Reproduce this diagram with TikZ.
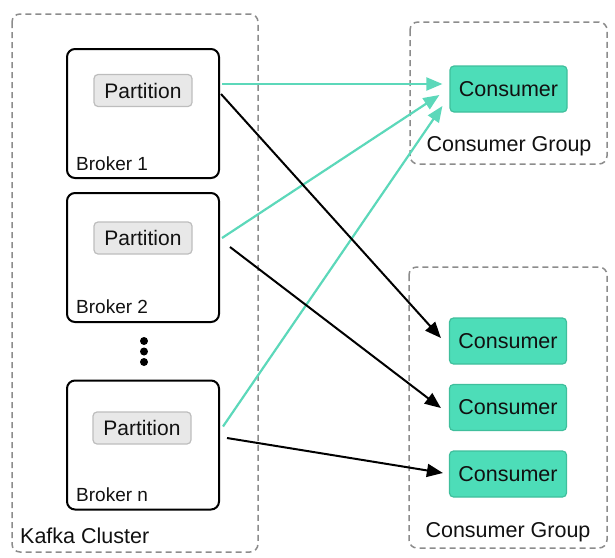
\documentclass[tikz,border=0pt]{standalone}
\usepackage{fontspec}
\setmainfont{Liberation Sans}
\usetikzlibrary{arrows.meta,calc}
\definecolor{teal1}{HTML}{4DDDB8}
\definecolor{teal2}{HTML}{3FBF9C}
\definecolor{tealarrow}{HTML}{5CD8BA}
\definecolor{grayline}{HTML}{8C8C8C}
\definecolor{partfill}{HTML}{E8E8E8}
\definecolor{partline}{HTML}{BDBDBD}
\definecolor{ink}{HTML}{111111}
\tikzset{
  groupbox/.style={draw=grayline, line width=1.5pt, dash pattern=on 6pt off 4pt, rounded corners=8pt},
  brokerbox/.style={draw=black, line width=2pt, rounded corners=8pt, minimum width=152pt, minimum height=129pt, inner sep=0pt},
  partbox/.style={draw=partline, fill=partfill, line width=1.2pt, rounded corners=4pt, minimum width=98pt, minimum height=32pt, inner sep=0pt, font=\fontsize{21}{24}\selectfont, text=ink},
  consbox/.style={draw=teal2, fill=teal1, line width=1.2pt, rounded corners=4pt, minimum width=117pt, minimum height=46pt, inner sep=0pt, font=\fontsize{21.5}{24}\selectfont, text=ink},
  smalllab/.style={anchor=west, inner sep=0pt, font=\fontsize{19}{22}\selectfont, text=ink},
  biglab/.style={inner sep=0pt, font=\fontsize{21.5}{24}\selectfont, text=ink},
  tealarr/.style={draw=tealarrow, line width=2.2pt, -{Triangle[length=16pt,width=13pt]}},
  blackarr/.style={draw=black, line width=2pt, -{Triangle[length=16pt,width=13pt]}},
  dotstyle/.style={circle, fill=black, inner sep=0pt, minimum size=8pt}
}
\begin{document}
\begin{tikzpicture}[x=1pt,y=-1pt]
\useasboundingbox (0,0) rectangle (615,557);
% groups
\draw[groupbox] (12,14) rectangle (258,552);
\draw[groupbox] (410,22) rectangle (607,164);
\draw[groupbox] (409,267) rectangle (607,548);
\node[biglab, anchor=west] (kc) at (20,536) {Kafka Cluster};
\node[biglab] (cg1) at (509,146) {Consumer Group};
\node[biglab] (cg2) at (508,532) {Consumer Group};
% brokers
\node[brokerbox] (b1) at (143,113.5) {};
\node[brokerbox] (b2) at (143,257.5) {};
\node[brokerbox] (bn) at (143,445) {};
\node[smalllab] (b1l) at (76,164) {Broker 1};
\node[smalllab] (b2l) at (76,307) {Broker 2};
\node[smalllab] (bnl) at (76,495) {Broker n};
\node[partbox] (p1) at (143,90.5) {Partition};
\node[partbox] (p2) at (143,238) {Partition};
\node[partbox] (pn) at (142,428) {Partition};
\node[dotstyle] (d1) at (144,341) {};
\node[dotstyle] (d2) at (144,351.5) {};
\node[dotstyle] (d3) at (144,362) {};
% consumers
\node[consbox] (c0) at (508.5,89) {Consumer};
\node[consbox] (c1) at (508,341) {Consumer};
\node[consbox] (c2) at (508,407.5) {Consumer};
\node[consbox] (c3) at (508,474) {Consumer};
% arrows
\draw[tealarr] ($(b1.east)+(2,-29.5)$) -- ($(c0.west)+(-7,-5)$);
\draw[tealarr] ($(b2.east)+(2,-19.5)$) -- ($(c0.west)+(-10,6)$);
\draw[tealarr] ($(bn.east)+(3,-18.5)$) -- ($(c0.west)+(-7,17)$);
\draw[blackarr] ($(b1.east)+(1,-19.5)$) -- ($(c1.west)+(-8,-3)$);
\draw[blackarr] ($(b2.east)+(10,-10.5)$) -- ($(c2.west)+(-8,0.5)$);
\draw[blackarr] ($(bn.east)+(7,-7)$) -- ($(c3.west)+(-6,-1)$);
\end{tikzpicture}
\end{document}
